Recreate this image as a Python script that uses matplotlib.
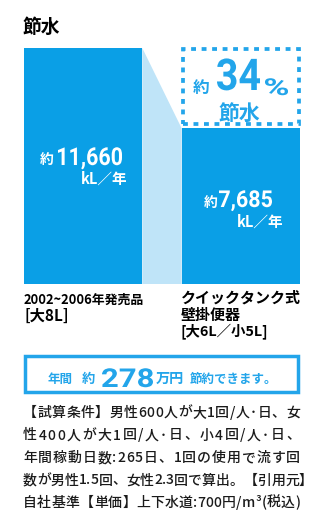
import matplotlib
matplotlib.use("Agg")
import matplotlib.pyplot as plt
from matplotlib.patches import Rectangle, Polygon, PathPatch
from matplotlib.textpath import TextPath
from matplotlib.font_manager import FontProperties
from matplotlib.transforms import Affine2D

plt.rcParams['font.family'] = ['Noto Sans CJK JP', 'DejaVu Sans']

# 年間使用水量 (kL/年)
labels_old = ["2002~2006年発売品", "[大8L]"]
labels_new = ["クイックタンク式", "壁掛便器", "[大6L／小5L]"]
usage = [11660, 7685]
usage_text = ["11,660", "7,685"]
saving_pct = 34
saving_yen = 278  # 万円
notes = [
    "【試算条件】男性600人が大1回/人･日、女",
    "性400人が大1回/人･日、小4回/人･日、",
    "年間稼動日数:265日、1回の使用で流す回",
    "数が男性1.5回、女性2.3回で算出。【引用元】",
    "自社基準【単価】上下水道:700円/m³(税込)",
]

BLUE = "#0a9fe6"
LIGHT = "#bfe4f8"
ACCENT = "#23a5ea"

W, H = 324, 520
fig = plt.figure(figsize=(W / 100, H / 100), dpi=100)
px = Affine2D().scale(1 / W, 1 / H) + fig.transFigure


def fx(x):
    return x / W


def fy(y):
    return 1 - y / H


def txt(x, y, s, size, color="black", ha="left", va="center", weight="bold"):
    fig.text(fx(x), fy(y), s, fontsize=size, color=color, ha=ha, va=va,
             fontweight=weight)


def num(s, x0, x1, top, base, color):
    # 細身の数字: 文字の輪郭を横方向に詰めて描く
    prop = FontProperties(family="Roboto", weight="bold")
    tp = TextPath((0, 0), s, size=100, prop=prop)
    ref = TextPath((0, 0), "0", size=100, prop=prop).get_extents()
    ext = tp.get_extents()
    sx = (x1 - x0) / ext.width
    sy = (base - top) / ref.height
    tr = Affine2D().translate(-ext.x0, 0).scale(sx, sy).translate(x0, H - base)
    fig.patches.append(PathPatch(tr.transform_path(tp), transform=px,
                                 fc=color, lw=0))


txt(23, 27, "節水", 13.5)

# 棒グラフ部分
ax = fig.add_axes([fx(24), fy(284), (300 - 24) / W, (284 - 48) / H])
w = 0.75
ax.bar([0, 1], usage, width=w, color=BLUE, zorder=3)
ax.set_xlim(-w / 2, 1 + w / 2)
ax.set_ylim(0, usage[0])
ax.axis("off")

# 2本の棒をつなぐ淡色の帯
ax.add_patch(Polygon([(w / 2, usage[0]), (1 - w / 2, usage[1]),
                      (1 - w / 2, 0), (w / 2, 0)],
                     closed=True, color=LIGHT, lw=0, zorder=2))

# 削減分の点線枠
ux = 0.009
uy = 64
gap = 175
ax.add_patch(Rectangle((1 - w / 2 + ux, usage[1] + gap + uy),
                       w - 2 * ux, usage[0] - usage[1] - gap - 2 * uy,
                       fill=False, ec=ACCENT, lw=2.7,
                       linestyle=(0, (1.3, 1.5)), zorder=4, clip_on=False))

# 棒の中の数値
txt(47, 160, "約", 10, "white", ha="center")
num(usage_text[0], 58, 122, 147, 165, "white")
txt(127, 179, "kL／年", 10.5, "white", ha="right")
txt(211, 203, "約", 10, "white", ha="center")
num(usage_text[1], 219, 272, 190, 207, "white")
txt(283, 222, "kL／年", 10.5, "white", ha="right")

# 節水率
txt(201, 88, "約", 12, ACCENT, ha="center")
num(str(saving_pct), 217, 260, 58, 90, ACCENT)
num("%", 265, 288, 78, 95, ACCENT)
txt(239, 113, "節水", 15, ACCENT, ha="center")

# 棒の下のラベル
txt(24, 300, labels_old[0], 9.3)
txt(24, 316, labels_old[1], 11)
for i, s in enumerate(labels_new):
    txt(181, 298 + 16.5 * i, s, 10.8 if i < 2 else 10.4)

# 節約金額の枠
fig.patches.append(Rectangle((fx(25), fy(392)), (298 - 25) / W, (392 - 356) / H,
                             transform=fig.transFigure, fill=False,
                             ec=ACCENT, lw=2.5))
txt(48, 379, "年間", 9, ACCENT)
txt(82, 379, "約", 9.5, ACCENT)
num(str(saving_yen), 102, 153, 368, 387, ACCENT)
txt(156, 379, "万円", 10.2, ACCENT)
txt(190, 379, "節約できます。", 9, ACCENT)

# 試算条件 (両端揃え)
fig.canvas.draw()
renderer = fig.canvas.get_renderer()
nprop = FontProperties(family=['Noto Sans CJK JP', 'DejaVu Sans'], size=10,
                       weight=500)
x0, x1 = 23, 300
for i, line in enumerate(notes):
    pre = [renderer.get_text_width_height_descent(line[:k], nprop, ismath=False)[0]
           if k else 0 for k in range(len(line) + 1)]
    extra = max((x1 - x0) - pre[-1], 0) / (len(line) - 1)
    for k, ch in enumerate(line):
        fig.text(fx(x0 + pre[k] + k * extra), fy(413 + 22.5 * i), ch,
                 fontproperties=nprop, ha="left", va="center",
                 color="#1a1a1a")

fig.savefig("out.png", dpi=100)
